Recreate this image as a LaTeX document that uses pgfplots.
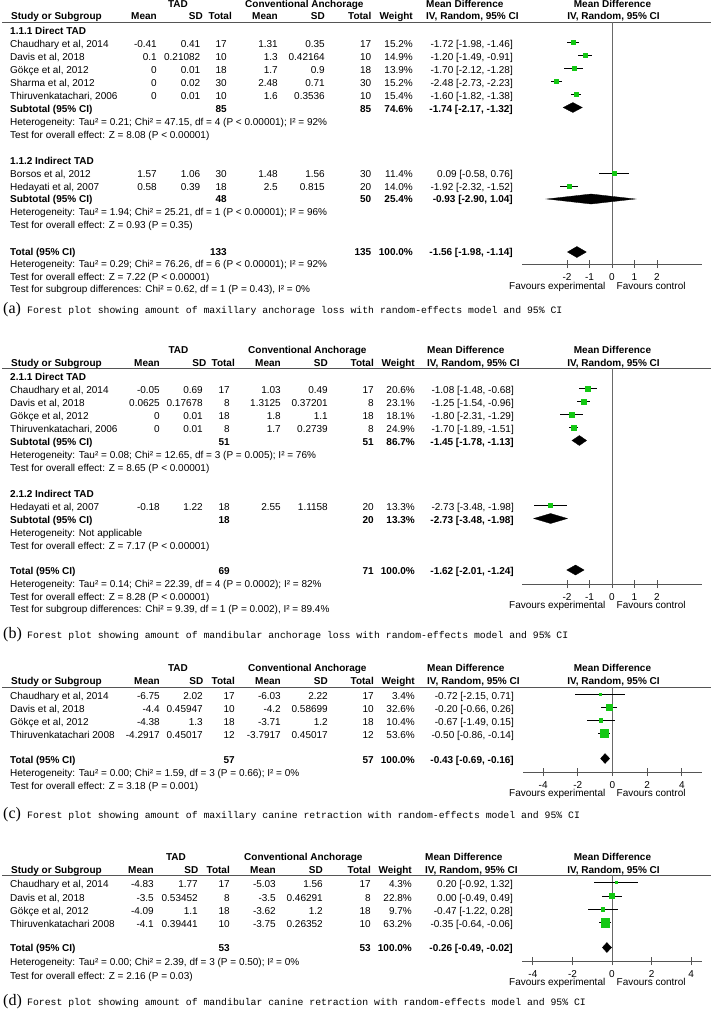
\documentclass[border=0pt]{standalone}
\usepackage{pgfplots}
\pgfplotsset{compat=1.18}
\usepackage{pgfplotstable}
\usepackage{fontspec}
\setmainfont{Liberation Sans}
\newfontfamily\capfont{Liberation Mono}
\newfontfamily\capletter{Liberation Serif}
\definecolor{sqgreen}{RGB}{20,200,20}
\definecolor{axgray}{RGB}{85,85,85}
\definecolor{zgray}{RGB}{105,105,105}
\newcommand\fs{\fontsize{10}{11.5}\selectfont}

\tikzset{
  tl/.style={anchor=mid west, inner sep=0pt, font=\fs},
  tr/.style={anchor=mid east, inner sep=0pt, font=\fs},
  tc/.style={anchor=mid, inner sep=0pt, font=\fs},
}
\newcommand\TL[3]{\node[tl] at (#1pt,-#2pt) {#3};}
\newcommand\TR[3]{\node[tr] at (#1pt,-#2pt) {#3};}
\newcommand\TC[3]{\node[tc] at (#1pt,-#2pt) {#3};}
\newcommand\BL[3]{\node[tl,font=\fs\bfseries] at (#1pt,-#2pt) {#3};}
\newcommand\BR[3]{\node[tr,font=\fs\bfseries] at (#1pt,-#2pt) {#3};}
\newcommand\BC[3]{\node[tc,font=\fs\bfseries] at (#1pt,-#2pt) {#3};}

\newcommand\Header[3]{%
 \BC{\tadC}{#1}{TAD}
 \BL{\convL}{#1}{Conventional Anchorage}
 \BL{\mdL}{#1}{Mean Difference}
 \BC{612.5}{#1}{Mean Difference}
 \BL{11}{#2}{Study or Subgroup}
 \BR{\cA}{#2}{Mean}\BR{\hB}{#2}{SD}\BR{\hC}{#2}{Total}
 \BR{\cD}{#2}{Mean}\BR{\cE}{#2}{SD}\BR{\cF}{#2}{Total}
 \BR{\cG}{#2}{Weight}\BL{\mdL}{#2}{IV, Random, 95\% CI}\BC{613.5}{#2}{IV, Random, 95\% CI}
 \draw[axgray,line width=0.9pt] (2pt,-#3pt) -- (711pt,-#3pt);}
\newcommand\Row[9]{\TL{10}{#1}{#2}\TR{\cA}{#1}{#3}\TR{\cB}{#1}{#4}\TR{\cC}{#1}{#5}\TR{\cD}{#1}{#6}\TR{\cE}{#1}{#7}\TR{\cF}{#1}{#8}\TR{\cG}{#1}{#9}}
\newcommand\Sub[6]{\BL{10}{#1}{#2}\BR{\cC}{#1}{#3}\BR{\cF}{#1}{#4}\BR{\cG}{#1}{#5}\BR{\cH}{#1}{#6}}
\newcommand\Fav[1]{\TR{605.5}{#1}{Favours experimental}\TL{616.5}{#1}{Favours control}}
\newcommand\Cap[3]{\node[anchor=mid west, inner sep=0pt, font=\capletter\fontsize{16}{16}\selectfont] at (3pt,-#1pt) {(#2)};
 \node[anchor=mid west, inner sep=0pt, font=\capfont\fontsize{9.8}{11}\selectfont] at (27pt,-#1pt) {Forest plot showing amount of #3 with random-effects model and 95\% CI};}

\pgfplotsset{
 forest/.style={scale only axis, anchor=north west, axis x line*=bottom, axis y line=none,
   x axis line style={-, draw=axgray, line width=0.8pt}, clip=false,
   tick align=center, major tick length=8pt, xtick style={draw=axgray, line width=0.8pt},
   xticklabel style={font=\fs, inner sep=0pt, anchor=mid, yshift=-9.5pt}, ytick=\empty},
 studies/.style={only marks, mark=square*, scatter, scatter/use mapped color={draw=sqgreen, fill=sqgreen},
   visualization depends on={\thisrow{s}\as\msz},
   scatter/@pre marker code/.append style={/tikz/mark size=\msz},
   error bars/.cd, x dir=both, x explicit, error mark=none, error bar style={black, line width=0.7pt}},
 dia/.style={fill=black, draw=black, line width=0.3pt, mark=none},
}

% study estimates: md lo hi y(row position) s(marker half-size from weight)
\pgfplotstableread{
md lo hi y s
-1.72 -1.98 -1.46 -42 2.14
-1.20 -1.49 -0.91 -55 2.12
-1.70 -2.12 -1.28 -68 2.05
-2.48 -2.73 -2.23 -81 2.14
-1.60 -1.82 -1.38 -94.5 2.16
0.09 -0.58 0.76 -173.5 1.86
-1.92 -2.32 -1.52 -186.5 2.06
}\tabA
\pgfplotstableread{
md lo hi y s
-1.08 -1.48 -0.68 -388.5 2.50
-1.25 -1.54 -0.96 -401.5 2.64
-1.80 -2.31 -1.29 -414.5 2.34
-1.70 -1.89 -1.51 -427.5 2.74
-2.73 -3.48 -1.98 -505.5 2.00
}\tabB
\pgfplotstableread{
md lo hi y s
-0.72 -2.15 0.71 -694 1.01
-0.20 -0.66 0.26 -707 3.14
-0.67 -1.49 0.15 -720 1.77
-0.50 -0.86 -0.14 -733.5 4.03
}\tabC
\pgfplotstableread{
md lo hi y s
0.20 -0.92 1.32 -882.5 1.14
0.00 -0.49 0.49 -896 2.63
-0.47 -1.22 0.28 -909 1.71
-0.35 -0.64 -0.06 -922.5 4.37
}\tabD

\begin{document}
\begin{tikzpicture}
% ================= (a) =================
\def\cA{157}\def\cB{200.5}\def\cC{227}\def\cD{278}\def\cE{325}\def\cF{371.5}\def\cG{413}\def\cH{513}\def\hB{203}\def\hC{232}\def\tadC{178}\def\convL{245}\def\mdL{426}
\Header{5}{17}{22}
\BL{10}{32}{1.1.1 Direct TAD}
\Row{45}{Chaudhary et al, 2014}{-0.41}{0.41}{17}{1.31}{0.35}{17}{15.2\%}\TR{\cH}{45}{-1.72 [-1.98, -1.46]}
\Row{58}{Davis et al, 2018}{0.1}{0.21082}{10}{1.3}{0.42164}{10}{14.9\%}\TR{\cH}{58}{-1.20 [-1.49, -0.91]}
\Row{71}{Gökçe et al, 2012}{0}{0.01}{18}{1.7}{0.9}{18}{13.9\%}\TR{\cH}{71}{-1.70 [-2.12, -1.28]}
\Row{84}{Sharma et al, 2012}{0}{0.02}{30}{2.48}{0.71}{30}{15.2\%}\TR{\cH}{84}{-2.48 [-2.73, -2.23]}
\Row{97}{Thiruvenkatachari, 2006}{0}{0.01}{10}{1.6}{0.3536}{10}{15.4\%}\TR{\cH}{97}{-1.60 [-1.82, -1.38]}
\Sub{110}{Subtotal (95\% CI)}{85}{85}{74.6\%}{-1.74 [-2.17, -1.32]}
\TL{10}{123}{Heterogeneity: Tau² = 0.21; Chi² = 47.15, df = 4 (P < 0.00001); I² = 92\%}
\TL{10}{136}{Test for overall effect: Z = 8.08 (P < 0.00001)}
\BL{10}{162}{1.1.2 Indirect TAD}
\Row{175}{Borsos et al, 2012}{1.57}{1.06}{30}{1.48}{1.56}{30}{11.4\%}\TR{\cH}{175}{0.09 [-0.58, 0.76]}
\Row{188}{Hedayati et al, 2007}{0.58}{0.39}{18}{2.5}{0.815}{20}{14.0\%}\TR{\cH}{188}{-1.92 [-2.32, -1.52]}
\Sub{200}{Subtotal (95\% CI)}{48}{50}{25.4\%}{-0.93 [-2.90, 1.04]}
\TL{10}{213}{Heterogeneity: Tau² = 1.94; Chi² = 25.21, df = 1 (P < 0.00001); I² = 96\%}
\TL{10}{226}{Test for overall effect: Z = 0.93 (P = 0.35)}
\Sub{253}{Total (95\% CI)}{133}{135}{100.0\%}{-1.56 [-1.98, -1.14]}
\TL{10}{265}{Heterogeneity: Tau² = 0.29; Chi² = 76.26, df = 6 (P < 0.00001); I² = 92\%}
\TL{10}{278}{Test for overall effect: Z = 7.22 (P < 0.00001)}
\TL{10}{290}{Test for subgroup differences: Chi² = 0.62, df = 1 (P = 0.43), I² = 0\%}
\Fav{287}
\Cap{311}{a}{maxillary anchorage loss}
\begin{axis}[forest, at={(522pt,-22pt)}, width=180pt, height=242pt, xmin=-4, xmax=4, ymin=-264, ymax=-22,
  xtick={-2,-1,0,1,2}, xticklabels={-2,-1,0,1,2}]
\addplot[zgray, line width=0.8pt, mark=none] coordinates {(0,-22) (0,-264)};
\addplot[studies] table[x=md, y=y, x error minus expr=\thisrow{md}-(\thisrow{lo}), x error plus expr=\thisrow{hi}-(\thisrow{md})] {\tabA};
\addplot[dia] coordinates {(-2.17,-107.5) (-1.74,-102.5) (-1.32,-107.5) (-1.74,-112.5)} -- cycle;
\addplot[dia] coordinates {(-2.90,-199) (-0.93,-194) (1.04,-199) (-0.93,-204)} -- cycle;
\addplot[dia] coordinates {(-1.98,-252) (-1.56,-246.5) (-1.14,-252) (-1.56,-257.5)} -- cycle;
\end{axis}
% ================= (b) =================
\def\cA{160}\def\cB{203}\def\cC{230}\def\cD{281}\def\cE{328}\def\cF{374}\def\cG{415}\def\cH{514}\def\hB{206.5}\def\hC{235}\def\tadC{178.5}\def\convL{248}\def\mdL{427}
\Header{351}{364}{368}
\BL{10}{378}{2.1.1 Direct TAD}
\Row{391}{Chaudhary et al, 2014}{-0.05}{0.69}{17}{1.03}{0.49}{17}{20.6\%}\TR{\cH}{391}{-1.08 [-1.48, -0.68]}
\Row{404}{Davis et al, 2018}{0.0625}{0.17678}{8}{1.3125}{0.37201}{8}{23.1\%}\TR{\cH}{404}{-1.25 [-1.54, -0.96]}
\Row{417}{Gökçe et al, 2012}{0}{0.01}{18}{1.8}{1.1}{18}{18.1\%}\TR{\cH}{417}{-1.80 [-2.31, -1.29]}
\Row{430}{Thiruvenkatachari, 2006}{0}{0.01}{8}{1.7}{0.2739}{8}{24.9\%}\TR{\cH}{430}{-1.70 [-1.89, -1.51]}
\Sub{443}{Subtotal (95\% CI)}{51}{51}{86.7\%}{-1.45 [-1.78, -1.13]}
\TL{10}{456}{Heterogeneity: Tau² = 0.08; Chi² = 12.65, df = 3 (P = 0.005); I² = 76\%}
\TL{10}{469}{Test for overall effect: Z = 8.65 (P < 0.00001)}
\BL{10}{495}{2.1.2 Indirect TAD}
\Row{508}{Hedayati et al, 2007}{-0.18}{1.22}{18}{2.55}{1.1158}{20}{13.3\%}\TR{\cH}{508}{-2.73 [-3.48, -1.98]}
\Sub{521}{Subtotal (95\% CI)}{18}{20}{13.3\%}{-2.73 [-3.48, -1.98]}
\TL{10}{534}{Heterogeneity: Not applicable}
\TL{10}{547}{Test for overall effect: Z = 7.17 (P < 0.00001)}
\Sub{572}{Total (95\% CI)}{69}{71}{100.0\%}{-1.62 [-2.01, -1.24]}
\TL{10}{585}{Heterogeneity: Tau² = 0.14; Chi² = 22.39, df = 4 (P = 0.0002); I² = 82\%}
\TL{10}{598}{Test for overall effect: Z = 8.28 (P < 0.00001)}
\TL{10}{610}{Test for subgroup differences: Chi² = 9.39, df = 1 (P = 0.002), I² = 89.4\%}
\Fav{606}
\Cap{636}{b}{mandibular anchorage loss}
\begin{axis}[forest, at={(522pt,-368pt)}, width=180pt, height=216pt, xmin=-4, xmax=4, ymin=-584, ymax=-368,
  xtick={-2,-1,0,1,2}, xticklabels={-2,-1,0,1,2}]
\addplot[zgray, line width=0.8pt, mark=none] coordinates {(0,-368) (0,-584)};
\addplot[studies] table[x=md, y=y, x error minus expr=\thisrow{md}-(\thisrow{lo}), x error plus expr=\thisrow{hi}-(\thisrow{md})] {\tabB};
\addplot[dia] coordinates {(-1.78,-440.5) (-1.45,-435.5) (-1.13,-440.5) (-1.45,-445.5)} -- cycle;
\addplot[dia] coordinates {(-3.48,-518.5) (-2.73,-513.5) (-1.98,-518.5) (-2.73,-523.5)} -- cycle;
\addplot[dia] coordinates {(-2.01,-570) (-1.62,-565) (-1.24,-570) (-1.62,-575)} -- cycle;
\end{axis}
% ================= (c) =================
\def\cA{160}\def\cB{203}\def\cC{235}\def\cD{281}\def\cE{328}\def\cF{374}\def\cG{415}\def\cH{514}\def\hB{203.5}\def\hC{235}\def\tadC{178}\def\convL{248}\def\mdL{427}
\Header{669}{682}{687}
\Row{697}{Chaudhary et al, 2014}{-6.75}{2.02}{17}{-6.03}{2.22}{17}{3.4\%}\TR{\cH}{697}{-0.72 [-2.15, 0.71]}
\Row{710}{Davis et al, 2018}{-4.4}{0.45947}{10}{-4.2}{0.58699}{10}{32.6\%}\TR{\cH}{710}{-0.20 [-0.66, 0.26]}
\Row{723}{Gökçe et al, 2012}{-4.38}{1.3}{18}{-3.71}{1.2}{18}{10.4\%}\TR{\cH}{723}{-0.67 [-1.49, 0.15]}
\Row{736}{Thiruvenkatachari 2008}{-4.2917}{0.45017}{12}{-3.7917}{0.45017}{12}{53.6\%}\TR{\cH}{736}{-0.50 [-0.86, -0.14]}
\Sub{761}{Total (95\% CI)}{57}{57}{100.0\%}{-0.43 [-0.69, -0.16]}
\TL{10}{774}{Heterogeneity: Tau² = 0.00; Chi² = 1.59, df = 3 (P = 0.66); I² = 0\%}
\TL{10}{787}{Test for overall effect: Z = 3.18 (P = 0.001)}
\Fav{794}
\Cap{816}{c}{maxillary canine retraction}
\begin{axis}[forest, at={(523pt,-687pt)}, width=179pt, height=85pt, xmin=-5.16, xmax=5.16, ymin=-772, ymax=-687,
  xtick={-4,-2,0,2,4}, xticklabels={-4,-2,0,2,4}]
\addplot[zgray, line width=0.8pt, mark=none] coordinates {(0,-687) (0,-772)};
\addplot[studies] table[x=md, y=y, x error minus expr=\thisrow{md}-(\thisrow{lo}), x error plus expr=\thisrow{hi}-(\thisrow{md})] {\tabC};
\addplot[dia] coordinates {(-0.69,-758.5) (-0.43,-753.5) (-0.16,-758.5) (-0.43,-763.5)} -- cycle;
\end{axis}
% ================= (d) =================
\def\cA{154}\def\cB{198}\def\cC{230}\def\cD{276}\def\cE{323}\def\cF{371}\def\cG{412}\def\cH{513}\def\hB{198.5}\def\hC{230}\def\tadC{176}\def\convL{244}\def\mdL{425}
\Header{858}{871}{875}
\Row{885}{Chaudhary et al, 2014}{-4.83}{1.77}{17}{-5.03}{1.56}{17}{4.3\%}\TR{\cH}{885}{0.20 [-0.92, 1.32]}
\Row{898.5}{Davis et al, 2018}{-3.5}{0.53452}{8}{-3.5}{0.46291}{8}{22.8\%}\TR{\cH}{898.5}{0.00 [-0.49, 0.49]}
\Row{912}{Gökçe et al, 2012}{-4.09}{1.1}{18}{-3.62}{1.2}{18}{9.7\%}\TR{\cH}{912}{-0.47 [-1.22, 0.28]}
\Row{925}{Thiruvenkatachari 2008}{-4.1}{0.39441}{10}{-3.75}{0.26352}{10}{63.2\%}\TR{\cH}{925}{-0.35 [-0.64, -0.06]}
\Sub{949}{Total (95\% CI)}{53}{53}{100.0\%}{-0.26 [-0.49, -0.02]}
\TL{10}{963}{Heterogeneity: Tau² = 0.00; Chi² = 2.39, df = 3 (P = 0.50); I² = 0\%}
\TL{10}{977}{Test for overall effect: Z = 2.16 (P = 0.03)}
\Fav{983}
\Cap{1003}{d}{mandibular canine retraction}
\begin{axis}[forest, at={(522pt,-875pt)}, width=180pt, height=86pt, xmin=-4.55, xmax=4.55, ymin=-961, ymax=-875,
  xtick={-4,-2,0,2,4}, xticklabels={-4,-2,0,2,4}]
\addplot[zgray, line width=0.8pt, mark=none] coordinates {(0,-875) (0,-961)};
\addplot[studies] table[x=md, y=y, x error minus expr=\thisrow{md}-(\thisrow{lo}), x error plus expr=\thisrow{hi}-(\thisrow{md})] {\tabD};
\addplot[dia] coordinates {(-0.49,-947.5) (-0.26,-942.5) (-0.02,-947.5) (-0.26,-952.5)} -- cycle;
\end{axis}
\pgfresetboundingbox
\path[use as bounding box] (0,0) rectangle (711pt,-1009pt);
\end{tikzpicture}
\end{document}
